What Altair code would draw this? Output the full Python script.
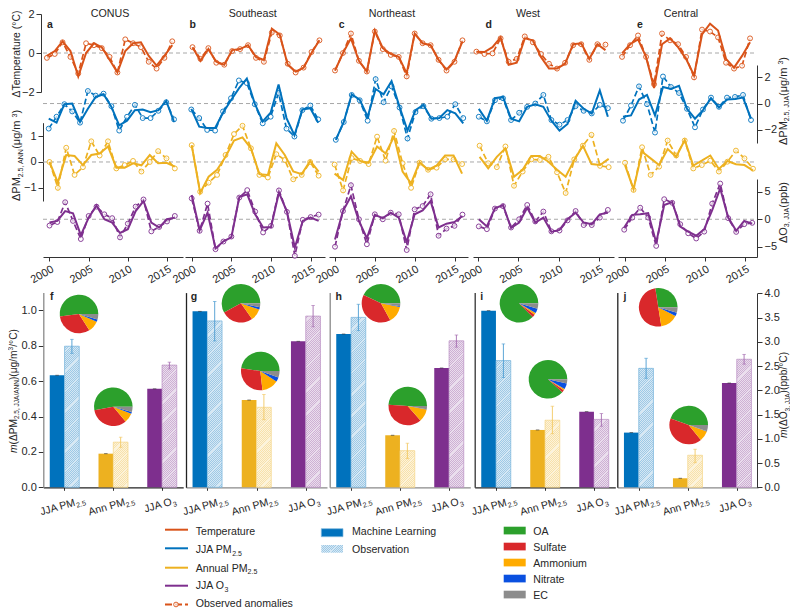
import math
import altair as alt
import pandas as pd

FONT = "Liberation Sans"
INK = "#262626"
W, H = 782, 600

YEARS_START = 2000
YEARS_END = 2016

TEMP_ML = [
    [-.15, .1, .6, .1, -1.2, 0, .5, .3, -.35, -1.0, .1, .5, .55, -.15, -.65, -.15, .4],
    [.3, -.4, .2, -.45, -.6, .15, .2, .4, -.2, -.35, 1.25, .95, -.6, -.95, -.75, 0, .65],
    [-.9, 0, .75, -.4, -.95, 1.15, .25, -.05, -.2, -1.05, 1.0, .5, .4, -.35, -.85, -.4, .6],
    [.07, .05, .3, .8, -.6, -.5, .75, .65, -.2, -.8, -.8, -.55, .45, .5, -.3, .45, .15],
    [-.02, .45, .7, -.2, -1.8, .45, .75, .3, -.3, -1.15, .95, 1.5, 1.15, -.3, -.75, -.15, .55],
]
TEMP_OBS = [
    [-.25, -.05, .55, -.2, -1.05, .5, .4, .25, -.2, -1.0, .7, .5, .3, -.45, -.8, -.25, .6],
    [.3, -.3, .25, -.5, -.6, .1, .2, .4, -.25, -.45, 1.05, .9, -.55, -1.0, -.75, .05, .65],
    [-.9, 0, 1.0, -.4, -.95, 1.1, .2, -.1, -.2, -1.2, 1.0, .5, .4, -.35, -.9, -.45, .65],
    [.07, -.05, -.02, .75, -.45, -.3, .85, .55, -.05, -.55, -.8, -.5, .4, .45, -.35, .45, .43],
    [-.2, .4, .9, -.2, -1.6, 1.0, .65, .45, -.2, -1.25, 1.2, 1.1, .8, -.5, -.8, -.65, .75],
]
JJA_ML = [
    [-1.15, -1.45, -.05, 0, -1.4, -.4, .5, .7, -.25, -1.65, -1.3, -.5, -.45, -.65, -.5, .2, -1.4],
    [-.4, -1.75, -1.85, -1.85, -.7, .25, 1.15, 1.9, 0, -1.35, -.7, 1.45, -1.1, -2.4, -.45, -.35, -1.45],
    [-2.75, -1.4, .7, .3, -1.0, 1.1, .7, 1.7, -.25, -2.05, -.5, -.1, -1.15, -1.1, -.5, -.75, -1.5],
    [-.4, -1.3, .4, .5, -1.15, -1.35, -.25, -.05, -.25, -1.3, -2.05, -1.55, .2, -.4, -.75, 1.0, -1.0],
    [-1.0, -.9, .3, .65, -.9, 1.25, 1.1, 1.35, -.4, -1.15, -.5, .4, -.3, .3, .35, .45, -1.15],
]
JJA_OBS = [
    [-1.9, -1.0, -.05, -.6, -1.45, .95, .6, .75, -.2, -2.05, -1.0, -.1, -1.1, -1.1, -.55, .1, -1.2],
    [-.45, -1.1, -2.0, -2.05, -.6, .4, 1.75, 1.55, -.05, -1.5, -1.0, .8, -1.9, -2.5, -.5, -.15, -1.2],
    [-2.75, -1.4, .65, .25, -1.3, 1.85, .1, 1.3, -.3, -2.65, -.65, -.2, -1.15, -1.1, -1.0, -.05, -1.1],
    [-1.0, -1.35, .25, .4, -1.25, -.7, -.25, 0, .65, -1.25, -1.6, -1.25, -.2, -.55, -.75, -.1, -.35],
    [-1.3, -.15, 1.3, -.05, -2.2, 2.05, 1.25, .8, -.4, -1.8, -.45, .45, -.25, .45, .5, .65, -1.25],
]
ANN_ML = [
    [0, -.8, .27, .23, -.12, .27, .33, .6, -.22, -.22, -.05, -.13, .27, -.05, -.03, -.18],
    [.65, -1.2, -.57, -.3, .2, .83, .95, .53, -.47, -.5, .72, .27, -.37, -.47, .04, -.37],
    [-.45, -.7, .4, .04, -.03, .6, .33, .98, -.37, -.83, -.01, -.3, -.14, .25, .25, -.45],
    [.2, -.25, .2, .53, -.57, -.3, .23, .23, .01, -.3, -.57, .08, .63, -.08, -.12, .12],
    [-.12, -1.05, .4, .14, -.12, .5, .2, .85, -.14, .05, .25, -.27, .04, -.09, -.12, -.33],
]
ANN_OBS = [
    [0, -1.0, .55, -.5, -.2, .8, .25, .8, -.25, -.12, .04, -.37, 0, .42, .14, -.25],
    [.65, -1.15, -.8, -.5, .27, 1.08, 1.4, .53, -.5, -.6, .3, .08, -.67, -.5, 0, -.53],
    [-.1, -1.1, .15, .04, -.08, .98, .05, 1.2, -.05, -1.0, -.03, -.3, -.22, .1, .1, -.08],
    [.63, -.05, -.2, .6, -.92, -.37, .1, .08, .2, -.4, -1.2, .1, .63, 1.05, -.15, -.2],
    [-.03, -1.08, .57, -.5, -.18, .83, .25, .83, -.25, -.12, .05, -.37, .01, .44, .14, -.26],
]
O3_ML = [
    [-.6, -.3, 1.5, 1.1, -2.9, .3, 2.5, 0, -.6, -2.5, -1.8, 1.5, 3.3, -.6, -1.5, 0, .3],
    [4.4, -2, 1.2, -5.3, -4, -3.3, 4.05, 4.55, .9, -1.5, -1.4, 4.85, 1.4, -5.15, -.3, .3, -.3],
    [-3.7, 1.5, 4.2, -.3, -3.45, .8, .2, 1.2, .3, -4.2, .9, 1.6, 3.3, -1.5, -.8, -.5, .6],
    [0, -1.3, 2, 2.6, -1.6, -.6, 2.1, -.6, .3, -2.3, -1.95, 0, 1.2, -.6, -.9, .9, 1.2],
    [-1.5, .8, .9, 1.1, -4.25, 2.6, 3.15, -1.35, -2.25, -3.0, -1.8, 1.65, 5.6, .3, -2.1, -.3, -.8],
]
O3_OBS = [
    [-1.15, -.5, 3.1, -.3, -3.6, .6, 2.3, .9, .2, -3.3, -.8, 2.3, 3.6, -2.2, -1.4, -.4, .6],
    [3.8, -2.1, 2.85, -5.45, -4.05, -3.15, 3.95, 5.3, 1.4, -2.4, -1.2, 5.25, 1.35, -6.65, -.1, .4, .85],
    [-5, 1.5, 6.2, 0, -4.55, .9, 0, 1.2, .9, -5.6, 1.8, 2.4, 4.55, -3, -1.7, -1.2, .85],
    [-1.3, -1.8, 1.95, 2.4, -1.5, 0, 2.6, -.4, 1.4, -2.2, -2.05, -.2, 1.5, -1.05, -1.05, .3, 1.7],
    [-1.9, .3, 2.1, .3, -4.85, 3.65, 3.0, -.9, -2.55, -3.5, -2.25, 2.85, 6.5, .2, -2.3, -.9, -.65],
]
YEAR_SHIFT = [
    [-.33, -.1, 0, 0], [.1, -.05, 0, 0], [0, .1, -.05, 0], [-.2, .1, .2, .1], [-.37, -.25, 0, -.1],
]
REGIONS = ["CONUS", "Southeast", "Northeast", "West", "Central"]
TOP_LETTERS = ["a", "b", "c", "d", "e"]
BOTTOM_LETTERS = ["f", "g", "h", "i", "j"]

CATEGORIES = ["JJA PM2.5", "Ann PM2.5", "JJA O3"]
BAR_ML = [[.633, .19, 2.03], [.994, .493, 3.01], [.866, .294, 2.46], [.998, .324, 1.56], [.309, .051, 2.15]]
BAR_OBS = [[.797, .255, 2.52], [.94, .452, 3.53], [.96, .207, 3.02], [.716, .379, 1.40], [.672, .181, 2.64]]
BAR_HI = [[.836, .283, 2.58], [1.05, .524, 3.75], [1.034, .249, 3.14], [.81, .458, 1.52], [.729, .215, 2.74]]
BAR_LO = [[.757, .226, 2.44], [.827, .382, 3.31], [.885, .162, 2.89], [.62, .303, 1.26], [.616, .139, 2.54]]

COMPONENTS = ["OA", "Sulfate", "Ammonium", "Nitrate", "EC"]
COMPONENT_COLORS = ["#2CA02C", "#D9282B", "#FFAB00", "#0A50E0", "#8C8C8C"]
PIES_JJA = [
    [52, 32, 9.5, 2, 4.5], [58, 26.7, 10, 2, 3.3], [43, 40, 14, .6, 2.4], [87.5, 2.5, 1.5, 4, 4.5], [27.5, 50, 15, 3, 4.5],
]
PIES_ANN = [
    [53, 33, 8, 1.5, 4.5], [47.8, 29, 14, 3.7, 5.5], [49, 37.5, 10.5, .4, 2.6], [88.3, 2, 1.2, 5, 3.5], [44.5, 41.4, 8.6, .3, 5.2],
]

# layout, in page pixels of the picture
SX = [(43, 183, 49.5, 167), (185, 325, 191.7, 310.7), (329, 468, 335, 454.5), (473, 614, 478, 599), (618, 757, 625, 745)]
BX = [(43.3, 184), (186, 327), (329.7, 472), (474.7, 615), (617.3, 757)]
BAR_CENTERS = [(64.5, 162), (207.3, 305.7), (351, 449), (496, 594), (638.7, 736.7)]
PIE_JJA_POS = [(79, 314), (241, 303.3), (381, 303.3), (519, 303.3), (658.3, 307.3)]
PIE_ANN_POS = [(113.3, 406.7), (260.3, 371), (407.7, 406), (548, 379.3), (688.7, 425)]

BLUE, YELLOW, PURPLE, ORANGE = "#0072BD", "#EDB120", "#7E2F8E", "#D95319"
BAR_COLORS = [BLUE, YELLOW, PURPLE]
TITLE_X = [110, 252.7, 392, 528, 681]
LETTER_X = [50, 192.7, 341.7, 488.7, 640]
LETTER2_X = [51.7, 194, 338.7, 481.7, 625]
BAR_DOMAIN_COLORS = [("#8a8a8a", "#222222"), ("#222222", "#8a8a8a"), ("#8a8a8a", "#8a8a8a"), ("#333333", "#222222"), ("#222222", "#8a8a8a")]


def px(v):
    return v - 8


def hexmix(c, t):
    r, g, b = (int(c[i:i + 2], 16) for i in (1, 3, 5))
    return "#%02x%02x%02x" % tuple(round(255 + (v - 255) * t) for v in (r, g, b))


CW = {" ": .278, ".": .278, ",": .278, "(": .333, ")": .333, "/": .278, "I": .278, "J": .5, "A": .667, "N": .722,
      "P": .667, "M": .833, "O": .778, "Δ": .66, "m": .833, "μ": .576, "°": .4, "C": .722, "l": .222, "i": .222,
      "r": .333, "t": .278}


def twidth(s, size):
    return sum(CW.get(ch, .556) for ch in s) * size


def rich(parts, x, y, angle=0, anchor="start"):
    """parts: (text, size, shift-down, italic)"""
    total = sum(twidth(p[0], p[1]) for p in parts)
    a = math.radians(angle)
    ca, sa = math.cos(a), math.sin(a)
    adv = -total / 2 if anchor == "center" else 0
    out = []
    for text, size, dy, ital in parts:
        mx = x + adv * ca - dy * sa
        my = y + adv * sa + dy * ca
        out.append(alt.Chart().mark_text(
            align="left", baseline="alphabetic", angle=angle % 360, font=FONT, fontSize=size,
            fontStyle="italic" if ital else "normal", color=INK,
        ).encode(x=alt.value(px(mx)), y=alt.value(px(my)), text=alt.value(text)))
        adv += twidth(text, size)
    return out


def label(s, x, y, size=10.6, align="left", angle=0, bold=False):
    return alt.Chart().mark_text(
        align=align, baseline="alphabetic", angle=angle, font=FONT, fontSize=size,
        fontWeight="bold" if bold else "normal", color=INK,
    ).encode(x=alt.value(px(x)), y=alt.value(px(y)), text=alt.value(s))


def hatch(color, w, h, pitch=2.1):
    n = max(2, round((w + h) / pitch))
    dark, pale = hexmix(color, .38), hexmix(color, .16)
    stops = []
    for k in range(n):
        stops += [
            {"offset": k / n, "color": dark}, {"offset": (k + .45) / n, "color": dark},
            {"offset": (k + .45) / n, "color": pale}, {"offset": (k + 1) / n, "color": pale},
        ]
    c = (w + h) / (w * w + h * h)
    return {"gradient": "linear", "x1": 0, "y1": 0, "x2": c * w, "y2": c * h, "stops": stops}


def axis_common(**kw):
    d = dict(title=None, grid=False, labelFont=FONT, labelFontSize=11, labelColor=INK, tickColor="#333333",
             domainColor="#333333", tickSize=5, labelPadding=2, labelOverlap=False, labelFlush=False, labelBound=False)
    d.update(kw)
    return alt.Axis(**d)


layers = []

Y_SCALES = [
    alt.Scale(domain=[-2, 2], range=[px(92), px(14)], nice=False, zero=False),
    alt.Scale(domain=[-2.99, 2.92], range=[px(143), px(65)], nice=False, zero=False),
    alt.Scale(domain=[-1.51, 1.52], range=[px(201), px(122.7)], nice=False, zero=False),
    alt.Scale(domain=[-6.87, 7.33], range=[px(257), px(179)], nice=False, zero=False),
]

# zero reference lines
for sc in Y_SCALES:
    layers.append(alt.Chart().mark_rule(color="#a8a8a8", strokeDash=[4, 3], strokeWidth=1).encode(
        x=alt.value(px(43)), x2=alt.value(px(755)), y=alt.YDatum(0, scale=sc, axis=None)))

Y_AXES = {
    (0, 0): axis_common(orient="left", offset=-px(41), values=[-2, 0, 2], format="d"),
    (0, 2): axis_common(orient="left", offset=-px(43), values=[-1, 0, 1], format="d"),
    (4, 1): axis_common(orient="right", offset=px(757) - W, values=[-2, 0, 2], format="d"),
    (4, 3): axis_common(orient="right", offset=px(757) - W, values=[-5, 0, 5], format="d"),
}
COLORS = [ORANGE, BLUE, YELLOW, PURPLE]
SERIES_ML = [TEMP_ML, JJA_ML, ANN_ML, O3_ML]
SERIES_OBS = [TEMP_OBS, JJA_OBS, ANN_OBS, O3_OBS]

for p in range(5):
    xl, xr, x0, x15 = SX[p]
    per = (x15 - x0) / 15
    sc_x = alt.Scale(domain=[2000 + (xl - x0) / per, 2000 + (xr - x0) / per], range=[px(xl), px(xr)], nice=False, zero=False)
    for s in range(4):
        ml, ob = SERIES_ML[s][p], SERIES_OBS[s][p]
        n = len(ml)
        yrs = [YEARS_START + YEAR_SHIFT[p][s] + i * (YEARS_END - YEARS_START) / (n - 1) for i in range(n)]
        df = pd.DataFrame({"year": yrs, "ml": ml, "obs": ob})
        color = COLORS[s]
        x_plain = alt.X("year:Q", scale=sc_x, axis=None)
        layers.append(alt.Chart(df).mark_line(color=color, strokeWidth=1.7, strokeDash=[6, 3]).encode(
            x=x_plain, y=alt.Y("obs:Q", scale=Y_SCALES[s], axis=None)))
        layers.append(alt.Chart(df).mark_point(shape="circle", size=24, stroke=color, strokeWidth=.9, fill="white",
                                               fillOpacity=.7, opacity=1).encode(
            x=x_plain, y=alt.Y("obs:Q", scale=Y_SCALES[s], axis=None)))
        x_enc = x_plain
        if s == 3:
            x_enc = alt.X("year:Q", scale=sc_x, axis=axis_common(
                orient="bottom", offset=px(257) - H, values=[2000, 2005, 2010, 2015], format="d",
                labelAngle=330, labelAlign="right", labelBaseline="top", tickSize=4))
        y_axis = Y_AXES.get((p, s))
        layers.append(alt.Chart(df).mark_line(color=color, strokeWidth=2).encode(
            x=x_enc, y=alt.Y("ml:Q", scale=Y_SCALES[s], axis=y_axis)))
    layers.append(label(REGIONS[p], TITLE_X[p], 17, size=10.7, align="center"))
    layers.append(label(TOP_LETTERS[p], LETTER_X[p], 27.5, size=10.5, align="center", bold=True))

# bar panels
PM_SCALE = alt.Scale(domain=[0, 1.1], range=[px(487.3), px(292.6)], nice=False, zero=True)
O3_SCALE = alt.Scale(domain=[0, 4.0], range=[px(487.3), px(293.3)], nice=False, zero=True)
PM_PX = (487.3 - 292.6) / 1.1
O3_PX = (487.3 - 293.3) / 4.0

for p in range(5):
    c0, c2 = BAR_CENTERS[p]
    xl, xr = BX[p]
    pad = (c0 - xl) / ((c2 - c0) / 2)
    left_col, bottom_col = BAR_DOMAIN_COLORS[p]
    sc_x = alt.Scale(type="point", domain=CATEGORIES, range=[px(xl), px(xl + (c2 - c0) * (1 + pad))], padding=pad)
    x_axis = axis_common(orient="bottom", offset=px(487.3) - H, labels=False, tickSize=3,
                         domainColor=bottom_col, domainWidth=1.3)
    if p == 0:
        l_axis = axis_common(orient="left", offset=-px(xl), values=[0, .2, .4, .6, .8, 1.0], format=".1f",
                             domainColor=left_col, domainWidth=1.3)
    else:
        l_axis = axis_common(orient="left", offset=-px(xl), values=[], ticks=False, labels=False,
                             domainColor=left_col, domainWidth=1.3)
    for c, cat in enumerate(CATEGORIES):
        color = BAR_COLORS[c]
        sc_y, ppu = (O3_SCALE, O3_PX) if c == 2 else (PM_SCALE, PM_PX)
        df = pd.DataFrame({"cat": [cat], "ml": [BAR_ML[p][c]], "obs": [BAR_OBS[p][c]],
                           "hi": [BAR_HI[p][c]], "lo": [BAR_LO[p][c]]})
        xplain = alt.X("cat:N", scale=sc_x, axis=None)
        yaxis = None
        xenc = xplain
        if c == 0:
            xenc = alt.X("cat:N", scale=sc_x, axis=x_axis)
            yaxis = l_axis
        if c == 2 and p == 4:
            yaxis = axis_common(orient="right", offset=px(757) - W, values=[0, .5, 1, 1.5, 2, 2.5, 3, 3.5, 4],
                                format=".1f", domainColor="#333333")
        layers.append(alt.Chart(df).mark_bar(size=14.7, xOffset=-7.4, color=color).encode(
            x=xenc, y=alt.Y("ml:Q", scale=sc_y, axis=yaxis)))
        layers.append(alt.Chart(df).mark_tick(size=3.5, thickness=.9, xOffset=-7.4, color="#333333").encode(
            x=xplain, y=alt.Y("ml:Q", scale=sc_y, axis=None)))
        layers.append(alt.Chart(df).mark_bar(
            size=14.7, xOffset=7.4, fill=hatch(color, 14.7, BAR_OBS[p][c] * ppu),
            stroke=hexmix(color, .55), strokeWidth=.7).encode(
            x=xplain, y=alt.Y("obs:Q", scale=sc_y, axis=None)))
        err = hexmix(color, .7)
        layers.append(alt.Chart(df).mark_rule(xOffset=7.4, color=err, strokeWidth=.9).encode(
            x=xplain, y=alt.Y("lo:Q", scale=sc_y, axis=None), y2="hi:Q"))
        for col in ("lo", "hi"):
            layers.append(alt.Chart(df).mark_tick(size=3.5, thickness=.9, xOffset=7.4, color=err).encode(
                x=xplain, y=alt.Y(f"{col}:Q", scale=sc_y, axis=None)))
    # pies
    for frac, (cx, cy) in ((PIES_JJA[p], PIE_JJA_POS[p]), (PIES_ANN[p], PIE_ANN_POS[p])):
        dfp = pd.DataFrame({"comp": COMPONENTS, "pct": frac, "rank": [4, 3, 2, 1, 0]})
        layers.append(alt.Chart(dfp).mark_arc(radius=19.3).encode(
            x=alt.value(px(cx)), y=alt.value(px(cy)),
            theta=alt.Theta("pct:Q", stack=True, scale=alt.Scale(
                domain=[0, sum(frac)], range=[math.pi / 2, math.pi / 2 + 2 * math.pi])),
            order=alt.Order("rank:Q", sort="ascending"),
            color=alt.Color("comp:N", scale=alt.Scale(domain=COMPONENTS, range=COMPONENT_COLORS), legend=None),
        ))
    layers.append(label(BOTTOM_LETTERS[p], LETTER2_X[p], 300, size=10.5, align="center", bold=True))
    step = (c2 - c0) / 2
    for c in range(3):
        cx = c0 + c * step
        parts = {
            0: [("JJA PM", 10.6, 0, False), ("2.5", 7, 2.5, False)],
            1: [("Ann PM", 10.6, 0, False), ("2.5", 7, 2.5, False)],
            2: [("JJA O", 10.6, 0, False), ("3", 7, 2.5, False)],
        }[c]
        layers += rich(parts, cx - 1, 509 - (1 if c == 2 else 0), angle=344, anchor="center")

# axis titles
layers.append(label("ΔTemperature (°C)", 20, 54, size=10.4, align="center", angle=270))
SUB = 7
layers += rich([("ΔPM", 11, 0, False), ("2.5, ANN", SUB, 2.5, False), (" (μg/m", 11, 0, False), ("3", SUB, -3.5, False), (")", 11, 0, False)],
               20, 201, angle=270)
layers += rich([("ΔPM", 11, 0, False), ("2.5, JJA", SUB, 2.5, False), (" (μg/m", 11, 0, False), ("3", SUB, -3.5, False), (")", 11, 0, False)],
               786.5, 145, angle=270)
layers += rich([("ΔO", 11, 0, False), ("3, JJA", SUB, 2.5, False), (" (ppb)", 11, 0, False)], 786.5, 243, angle=270)
layers += rich([("m", 10.2, 0, True), ("(ΔPM", 10.2, 0, False), ("2.5, JJA/ANN", 6.5, 2.5, False), (")(μg/m", 10.2, 0, False),
                ("3", 6.5, -3.5, False), ("/°C)", 10.2, 0, False)], 16.5, 453, angle=270)
layers += rich([("m", 10.2, 0, True), ("(ΔO", 10.2, 0, False), ("3, JJA", 6.5, 2.5, False), (")(ppb/°C)", 10.2, 0, False)],
               787, 438, angle=270)

# legend: lines
LEG_LINES = [("Temperature", ORANGE, 529.7, 535), ("JJA PM", BLUE, 548.3, 553.3), ("Annual PM", YELLOW, 567.7, 571.7), ("JJA O", PURPLE, 585.7, 589.3)]
for i, (txt, col, yl, yb) in enumerate(LEG_LINES):
    layers.append(alt.Chart().mark_rule(color=col, strokeWidth=2).encode(
        x=alt.value(px(165)), x2=alt.value(px(188)), y=alt.value(px(yl))))
    if i == 0:
        layers.append(label(txt, 195.7, yb))
    else:
        sub = "3" if i == 3 else "2.5"
        layers += rich([(txt, 10.6, 0, False), (sub, 7, 2.5, False)], 195.7, yb)
layers.append(alt.Chart().mark_rule(color=ORANGE, strokeWidth=1.8, strokeDash=[7, 3]).encode(
    x=alt.value(px(165)), x2=alt.value(px(188)), y=alt.value(px(604.5))))
layers.append(alt.Chart().mark_point(shape="circle", size=22, stroke=ORANGE, strokeWidth=.9, fill="white", fillOpacity=.7, opacity=1).encode(
    x=alt.value(px(176)), y=alt.value(px(604.5))))
layers.append(label("Observed anomalies", 195.7, 607))

# legend: method
layers.append(alt.Chart().mark_rect(fill=BLUE, stroke=hexmix(BLUE, .5), strokeWidth=.7).encode(
    x=alt.value(px(321.3)), x2=alt.value(px(343)), y=alt.value(px(528.7)), y2=alt.value(px(536.7))))
layers.append(alt.Chart().mark_rect(fill=hatch(BLUE, 21.7, 7.7), strokeWidth=0).encode(
    x=alt.value(px(321.3)), x2=alt.value(px(343)), y=alt.value(px(545)), y2=alt.value(px(552.7))))
layers.append(label("Machine Learning", 352, 535))
layers.append(label("Observation", 352, 552.5))

# legend: components
for i, (name, col) in enumerate(zip(COMPONENTS, COMPONENT_COLORS)):
    top = 526.7 + 16 * i
    layers.append(alt.Chart().mark_rect(fill=col).encode(
        x=alt.value(px(503.7)), x2=alt.value(px(525.7)), y=alt.value(px(top)), y2=alt.value(px(top + 7.7))))
    layers.append(label(name, 533.3, top + 8))

chart = alt.layer(*layers).resolve_scale(
    x="independent", y="independent", theta="independent", color="independent"
).properties(
    width=W, height=H, padding=0, background="white",
    autosize=alt.AutoSizeParams(type="none", contains="content"),
).configure_view(stroke=None)

chart.save("out.html", embed_options={"renderer": "svg", "actions": False})
